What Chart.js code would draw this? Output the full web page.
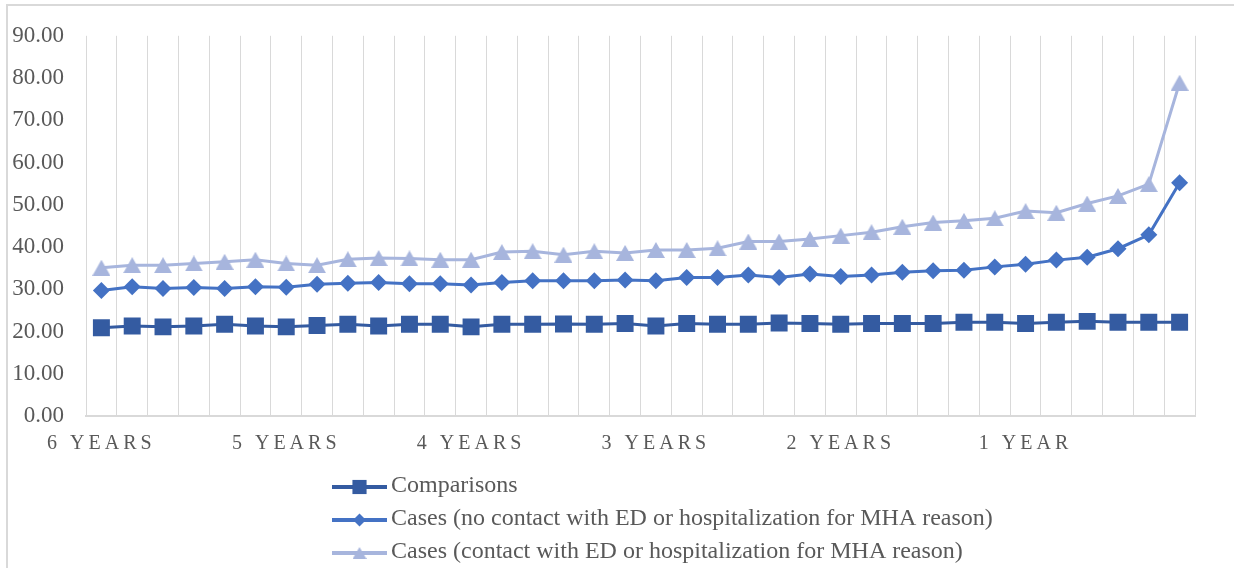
<!DOCTYPE html>
<html>
<head>
<meta charset="utf-8">
<script src="https://cdn.jsdelivr.net/npm/chart.js@4/dist/chart.umd.min.js"></script>
<style>
  html, body { margin: 0; padding: 0; background: #ffffff; overflow: hidden; }
  #wrap { position: relative; width: 1234px; height: 568px; }
  #frame { position: absolute; left: 6px; top: 4px; width: 1300px; height: 600px;
           border: 2px solid #d9d9d9; box-sizing: border-box; }
  #chart { position: absolute; left: 0; top: 0; }
</style>
</head>
<body>
<div id="wrap">
  <div id="frame"></div>
  <canvas id="chart" width="1234" height="568"></canvas>
</div>
<script>
// Time before the index date, one point every two months
const xTickLabels = [
  '6 YEARS', '', '', '', '', '',
  '5 YEARS', '', '', '', '', '',
  '4 YEARS', '', '', '', '', '',
  '3 YEARS', '', '', '', '', '',
  '2 YEARS', '', '', '', '', '',
  '1 YEAR',  '', '', '', '', ''
];

const seriesNames = [
  'Comparisons',
  'Cases (no contact with ED or hospitalization for MHA reason)',
  'Cases (contact with ED or hospitalization for MHA reason)'
];

const comparisons = [
  20.9, 21.3, 21.1, 21.3, 21.7, 21.3, 21.1, 21.4, 21.7, 21.3, 21.7, 21.7,
  21.1, 21.7, 21.7, 21.8, 21.7, 21.9, 21.3, 21.9, 21.7, 21.7, 22.0, 21.9,
  21.7, 21.9, 21.9, 21.9, 22.2, 22.2, 21.9, 22.2, 22.4, 22.2, 22.2, 22.2
];

const casesNoContact = [
  29.7, 30.6, 30.2, 30.4, 30.2, 30.6, 30.5, 31.2, 31.4, 31.6, 31.3, 31.3,
  31.0, 31.6, 32.0, 32.0, 32.0, 32.2, 32.0, 32.8, 32.8, 33.4, 32.8, 33.6,
  33.0, 33.4, 34.0, 34.4, 34.5, 35.3, 35.9, 36.9, 37.6, 39.6, 42.9, 55.2
];

const casesContact = [
  35.1, 35.7, 35.7, 36.1, 36.5, 37.0, 36.1, 35.7, 37.1, 37.4, 37.3, 37.0,
  37.0, 38.8, 39.0, 38.2, 39.0, 38.6, 39.3, 39.3, 39.7, 41.3, 41.3, 41.9,
  42.7, 43.5, 44.8, 45.8, 46.2, 46.8, 48.5, 48.1, 50.3, 52.1, 54.9, 78.9
];

const colors = ['#345ba1', '#4472c4', '#a7b5dd'];
const SERIF = '"Liberation Serif", "Times New Roman", serif';
const TEXT_GRAY = '#595959';
const GRID_GRAY = '#d9d9d9';

// Triangle marker drawn into a small canvas so it is centred on its bounding box
function triangleMarker(w, h, color) {
  const c = document.createElement('canvas');
  c.width = w; c.height = h;
  const g = c.getContext('2d');
  g.fillStyle = color;
  g.beginPath();
  g.moveTo(w / 2, 0);
  g.lineTo(w, h);
  g.lineTo(0, h);
  g.closePath();
  g.fill();
  return c;
}

const triPoint = triangleMarker(18, 16, colors[2]);
const triLegend = triangleMarker(14, 12, colors[2]);

// Spaced-out letters for the category labels
const letterSpacedTicks = {
  id: 'letterSpacedTicks',
  afterUpdate(chart) {
    const sc = chart.scales.x;
    if (!sc || sc._spacedLabels) return;
    const orig = sc.drawLabels;
    sc.drawLabels = function (area) {
      const ctx = this.ctx;
      ctx.save();
      ctx.letterSpacing = '4px';
      orig.call(this, area);
      ctx.restore();
    };
    sc._spacedLabels = true;
  }
};

// Legend stacked one entry per row under the plot
const stackedLegend = {
  id: 'stackedLegend',
  afterDraw(chart, args, opts) {
    const ctx = chart.ctx;
    ctx.save();
    chart.data.datasets.forEach((ds, i) => {
      const y = chart.chartArea.bottom + opts.top + i * opts.rowGap;
      const x0 = opts.left;
      ctx.strokeStyle = ds.borderColor;
      ctx.lineWidth = opts.lineWidth;
      ctx.beginPath();
      ctx.moveTo(x0, y);
      ctx.lineTo(x0 + opts.lineLength, y);
      ctx.stroke();
      ctx.fillStyle = ds.pointBackgroundColor;
      Chart.helpers.drawPoint(ctx, {
        pointStyle: ds.legendStyle,
        radius: ds.legendRadius,
        borderWidth: 0,
        rotation: 0
      }, x0 + opts.lineLength / 2, y);
      ctx.fillStyle = TEXT_GRAY;
      ctx.font = opts.font;
      ctx.textBaseline = 'middle';
      ctx.textAlign = 'left';
      ctx.fillText(ds.label, x0 + opts.lineLength + opts.textGap, y - 1);
    });
    ctx.restore();
  }
};

function lineSet(label, data, color, style, radius, legendStyle, legendRadius) {
  return {
    label, data,
    borderColor: color,
    backgroundColor: color,
    borderWidth: 3,
    pointStyle: style,
    pointRadius: radius,
    pointHoverRadius: radius,
    pointBackgroundColor: color,
    pointBorderColor: color,
    pointBorderWidth: 0,
    tension: 0,
    fill: false,
    legendStyle, legendRadius
  };
}

new Chart(document.getElementById('chart'), {
  type: 'line',
  data: {
    labels: xTickLabels,
    datasets: [
      lineSet(seriesNames[0], comparisons, colors[0], 'rect', 12, 'rect', 10),
      lineSet(seriesNames[1], casesNoContact, colors[1], 'rectRot', 8.5, 'rectRot', 6.5),
      lineSet(seriesNames[2], casesContact, colors[2], triPoint, 9, triLegend, 7)
    ]
  },
  options: {
    responsive: false,
    animation: false,
    events: [],
    layout: { padding: { left: 0, top: 31, right: 39, bottom: 112 } },
    scales: {
      x: {
        type: 'category',
        offset: true,
        afterFit(scale) { scale.height = 40; },
        grid: { display: true, offset: true, color: GRID_GRAY, lineWidth: 1, drawTicks: false },
        border: { display: true, color: GRID_GRAY, width: 2 },
        ticks: {
          autoSkip: false,
          maxRotation: 0,
          minRotation: 0,
          padding: 16,
          color: TEXT_GRAY,
          font: { family: SERIF, size: 20 },
          callback(v, i) { return xTickLabels[i]; }
        }
      },
      y: {
        min: 0,
        max: 90,
        afterFit(scale) { scale.width = 86; },
        grid: { display: false, drawTicks: false },
        border: { display: false },
        ticks: {
          stepSize: 10,
          padding: 22,
          color: TEXT_GRAY,
          font: { family: SERIF, size: 23 },
          callback(v) { return Number(v).toFixed(2); }
        }
      }
    },
    plugins: {
      legend: { display: false },
      tooltip: { enabled: false },
      stackedLegend: {
        left: 332,
        top: 71,
        rowGap: 33,
        lineLength: 55,
        lineWidth: 4,
        textGap: 4,
        font: '24px ' + SERIF
      }
    }
  },
  plugins: [letterSpacedTicks, stackedLegend]
});
</script>
</body>
</html>
